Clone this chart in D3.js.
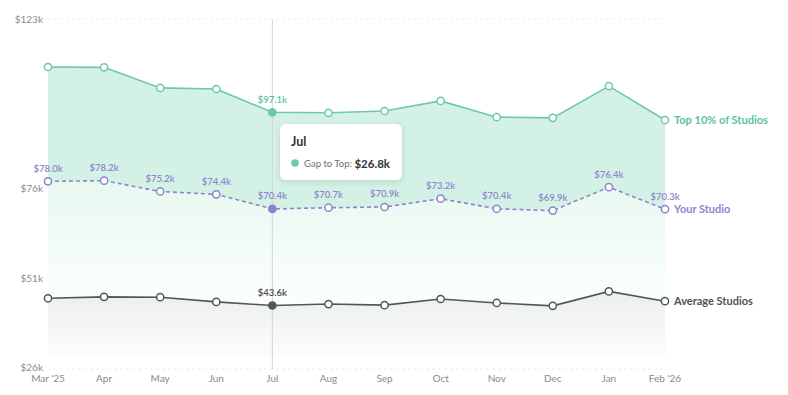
<!DOCTYPE html>
<html><head><meta charset="utf-8">
<script src="https://cdn.jsdelivr.net/npm/d3@7"></script>
<style>
html,body{margin:0;padding:0;background:#fff;}
svg{display:block;font-family:Lato,"Open Sans",sans-serif;}
</style></head>
<body><svg id="c" width="788" height="395"></svg>
<script>
const months = ["Mar '25","Apr","May","Jun","Jul","Aug","Sep","Oct","Nov","Dec","Jan","Feb '26"];
const topStudios = [109.7,109.6,103.9,103.6,97.14,97.0,97.5,100.3,95.8,95.6,104.4,95.0];
const yourStudio = [78.0,78.2,75.2,74.4,70.36,70.7,70.9,73.2,70.4,69.9,76.4,70.3];
const avgStudios = [45.6,46.0,45.9,44.6,43.6,44.0,43.7,45.4,44.3,43.5,47.5,44.8];
const yTicks = [26,51,76,123];
const highlightIndex = 4;
const seriesNames = ["Top 10% of Studios","Your Studio","Average Studios"];

const svg = d3.select("#c");
const x = d3.scalePoint().domain(months).range([48,665]);
const y = d3.scaleLinear().domain([26,123]).range([369,19]);

const C = {top:"#6ccaa6", topText:"#5cc29c", your:"#8d84cb", yourText:"#8f86cc", avg:"#4c5957", avgText:"#4a5553"};

const defs = svg.append("defs");
const g1 = defs.append("linearGradient").attr("id","yourGrad").attr("x1",0).attr("x2",0).attr("y1",0).attr("y2",1);
g1.append("stop").attr("offset","0%").attr("stop-color","#e8f8f1");
g1.append("stop").attr("offset","100%").attr("stop-color","#fcfefd");
const g2 = defs.append("linearGradient").attr("id","avgGrad").attr("x1",0).attr("x2",0).attr("y1",0).attr("y2",1);
g2.append("stop").attr("offset","0%").attr("stop-color","#eceeee");
g2.append("stop").attr("offset","100%").attr("stop-color","#fcfcfc");
const sh = defs.append("filter").attr("id","shadow").attr("x","-20%").attr("y","-20%").attr("width","140%").attr("height","150%");
sh.append("feDropShadow").attr("dx",0).attr("dy",2).attr("stdDeviation",3).attr("flood-color","#000").attr("flood-opacity",0.12);

// gridlines
svg.append("g").selectAll("line").data(yTicks).join("line")
  .attr("x1",48).attr("x2",665).attr("y1",d=>y(d)).attr("y2",d=>y(d))
  .attr("stroke","#eeeeee").attr("stroke-width",1).attr("stroke-dasharray","3,3");

const idx = d3.range(months.length);
svg.append("path").datum(idx)
  .attr("d", d3.area().x(i=>x(months[i])).y0(i=>y(avgStudios[i])).y1(i=>y(yourStudio[i])))
  .attr("fill","url(#yourGrad)");
svg.append("path").datum(idx)
  .attr("d", d3.area().x(i=>x(months[i])).y0(i=>y(yourStudio[i])).y1(i=>y(topStudios[i])))
  .attr("fill","#d4f1e6");
svg.append("path").datum(idx)
  .attr("d", d3.area().x(i=>x(months[i])).y0(y(29.5)).y1(i=>y(avgStudios[i])))
  .attr("fill","url(#avgGrad)");

// y axis labels
svg.append("g").selectAll("text").data(yTicks).join("text")
  .attr("x",43).attr("y",d=>y(d)+(d===26?2:3.5)).attr("text-anchor","end")
  .attr("font-size",10).attr("fill","#8a8a8a").text(d=>"$"+d+"k");
// x axis labels
svg.append("g").selectAll("text").data(months).join("text")
  .attr("x",d=>x(d)).attr("y",381.5).attr("text-anchor","middle")
  .attr("font-size",10).attr("fill","#8a8a8a").text(d=>d);

// vertical hover line
svg.append("line").attr("x1",x(months[highlightIndex])).attr("x2",x(months[highlightIndex]))
  .attr("y1",19).attr("y2",369).attr("stroke","#d4d4d4").attr("stroke-width",1);

function drawSeries(vals,color,dash,labelColor,labelAll){
  const line = d3.line().x((d,i)=>x(months[i])).y(d=>y(d));
  svg.append("path").datum(vals).attr("d",line).attr("fill","none")
    .attr("stroke",color).attr("stroke-width",1.6).attr("stroke-dasharray",dash||null);
  svg.append("g").selectAll("circle").data(vals).join("circle")
    .attr("cx",(d,i)=>x(months[i])).attr("cy",d=>y(d)).attr("r",3.6)
    .attr("fill",(d,i)=>i===highlightIndex?color:"#fff")
    .attr("stroke",color).attr("stroke-width",1.5);
  svg.append("g").selectAll("text").data(vals.map((v,i)=>({v,i})).filter(d=>labelAll||d.i===highlightIndex)).join("text")
    .attr("x",d=>x(months[d.i])).attr("y",d=>y(d.v)-9.5).attr("text-anchor","middle")
    .attr("font-size",9.5).attr("font-weight",600).attr("fill",labelColor)
    .text(d=>"$"+d.v.toFixed(1)+"k");
}
drawSeries(avgStudios,C.avg,null,"#4a4a4a",false);
drawSeries(topStudios,C.top,null,C.topText,false);
drawSeries(yourStudio,C.your,"4,3",C.yourText,true);

// end labels
const last = months.length-1;
[[topStudios,C.topText],[yourStudio,C.yourText],[avgStudios,C.avgText]].forEach((s,k)=>{
  svg.append("text").attr("x",x(months[last])+9).attr("y",y(s[0][last])+4)
    .attr("font-size",11).attr("font-weight",700).attr("fill",s[1]).text(seriesNames[k]);
});

// tooltip
const gap = topStudios[highlightIndex]-yourStudio[highlightIndex];
const tt = svg.append("g").attr("transform","translate(280,124)");
tt.append("rect").attr("width",122).attr("height",56).attr("rx",6).attr("fill","#fff").attr("filter","url(#shadow)");
tt.append("text").attr("x",11).attr("y",22).attr("font-size",12.5).attr("font-weight",700).attr("fill","#333").text(months[highlightIndex]);
tt.append("circle").attr("cx",15).attr("cy",39).attr("r",3.8).attr("fill",C.top);
tt.append("text").attr("x",24).attr("y",43).attr("font-size",9.5).attr("fill","#707070").text("Gap to Top:");
tt.append("text").attr("x",110).attr("y",43.5).attr("text-anchor","end").attr("font-size",11.5).attr("font-weight",700).attr("fill","#333").text("$"+gap.toFixed(1)+"k");
</script></body></html>
